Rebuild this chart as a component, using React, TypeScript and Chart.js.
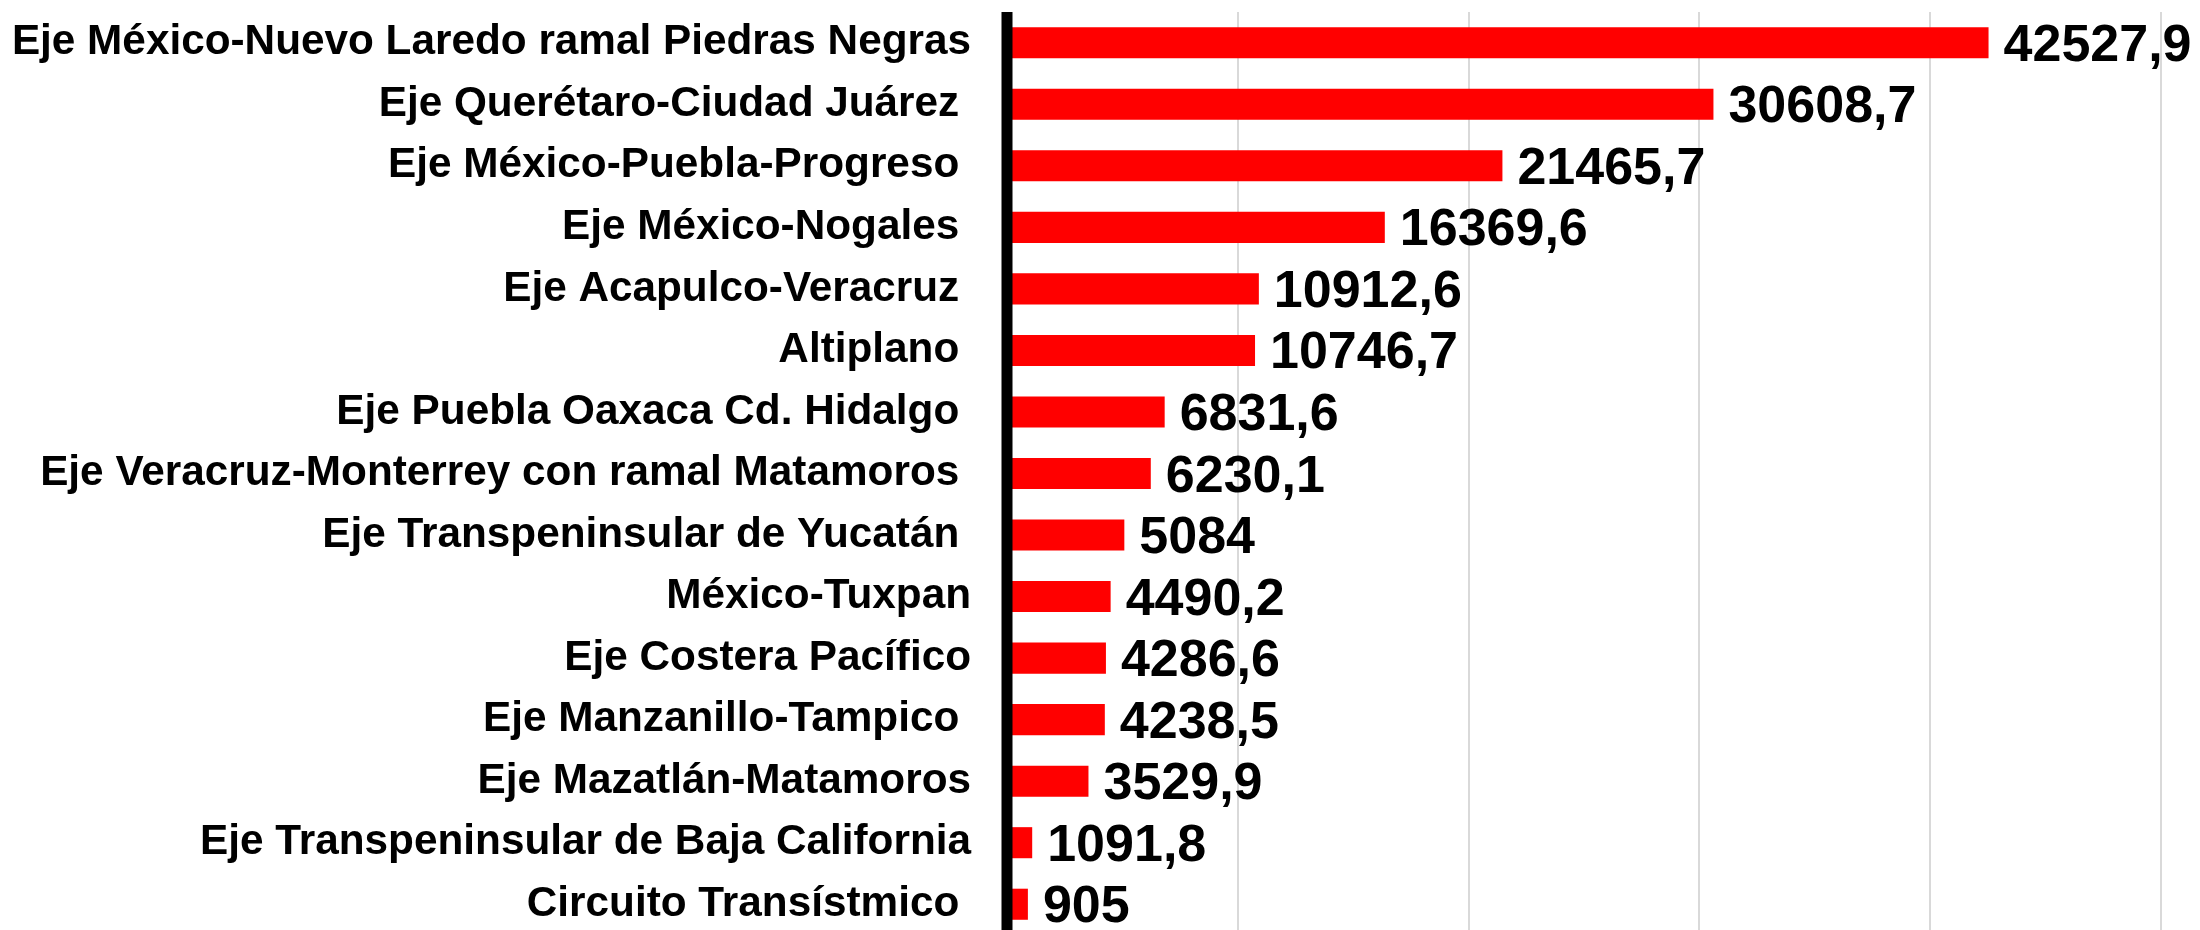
import React, { useEffect, useRef } from "react";
import { Chart, registerables } from "chart.js";

Chart.register(...registerables);

const categories: string[] = [
  "Eje México-Nuevo Laredo ramal Piedras Negras",
  "Eje Querétaro-Ciudad Juárez ",
  "Eje México-Puebla-Progreso ",
  "Eje México-Nogales ",
  "Eje Acapulco-Veracruz ",
  "Altiplano ",
  "Eje Puebla Oaxaca Cd. Hidalgo ",
  "Eje Veracruz-Monterrey con ramal Matamoros ",
  "Eje Transpeninsular de Yucatán ",
  "México-Tuxpan",
  "Eje Costera Pacífico",
  "Eje Manzanillo-Tampico ",
  "Eje Mazatlán-Matamoros",
  "Eje Transpeninsular de Baja California",
  "Circuito Transístmico ",
];

const values: number[] = [
  42527.9, 30608.7, 21465.7, 16369.6, 10912.6, 10746.7, 6831.6, 6230.1, 5084,
  4490.2, 4286.6, 4238.5, 3529.9, 1091.8, 905,
];

const xMin = 0;
const xMax = 50000;
const xStep = 10000;

const FONT = "'Liberation Sans', Arial, sans-serif";

const overlayPlugin = {
  id: "overlay",
  afterDatasetsDraw(chart: any) {
    const ctx = chart.ctx;
    const area = chart.chartArea;
    const x0 = chart.scales.x.getPixelForValue(0);
    ctx.save();
    // axis line on top of bars
    ctx.strokeStyle = "#000000";
    ctx.lineWidth = 11;
    ctx.beginPath();
    ctx.moveTo(x0, area.top);
    ctx.lineTo(x0, area.bottom);
    ctx.stroke();
    // value labels
    const meta = chart.getDatasetMeta(0);
    ctx.font = `bold 52px ${FONT}`;
    ctx.fillStyle = "#000000";
    ctx.textAlign = "left";
    ctx.textBaseline = "alphabetic";
    meta.data.forEach((bar: any, i: number) => {
      const txt = String(values[i]).replace(".", ",");
      ctx.fillText(txt, bar.x + 15, bar.y + 18);
    });
    ctx.restore();
  },
};

export default function App() {
  const ref = useRef<HTMLCanvasElement | null>(null);

  useEffect(() => {
    if (!ref.current) return;
    const chart = new Chart(ref.current, {
      type: "bar",
      data: {
        labels: categories,
        datasets: [
          {
            data: values,
            backgroundColor: "#FF0000",
            borderWidth: 0,
            categoryPercentage: 1,
            barPercentage: 0.505,
          },
        ],
      },
      options: {
        indexAxis: "y",
        responsive: false,
        animation: false,
        layout: { padding: { top: 12, right: 39, bottom: 10, left: 0 } },
        plugins: {
          legend: { display: false },
          tooltip: { enabled: false },
        },
        scales: {
          x: {
            min: xMin,
            max: xMax,
            ticks: { display: false, stepSize: xStep },
            grid: {
              display: true,
              drawTicks: false,
              tickLength: 0,
              lineWidth: 2,
              color: (c: any) =>
                c.tick && c.tick.value === 0 ? "rgba(0,0,0,0)" : "#d9d9d9",
            },
            border: { display: false },
            afterFit: (scale: any) => {
              scale.height = 0;
              scale.paddingLeft = 0;
              scale.paddingRight = 0;
            },
          },
          y: {
            ticks: {
              autoSkip: false,
              padding: 36,
              color: "#000000",
              font: { family: FONT, size: 42.3, weight: "bold" },
            },
            grid: { display: false, drawTicks: false, tickLength: 0 },
            border: { display: false },
            afterFit: (scale: any) => {
              scale.width = 1007;
              scale.paddingTop = 0;
              scale.paddingBottom = 0;
            },
          },
        },
      },
      plugins: [overlayPlugin],
    });
    return () => chart.destroy();
  }, []);

  return (
    <div
      style={{
        position: "fixed",
        left: 0,
        top: 0,
        width: 2200,
        height: 930,
        overflow: "hidden",
        background: "#ffffff",
      }}
    >
      <canvas
        ref={ref}
        width={2200}
        height={945}
        style={{ width: "2200px", height: "945px", display: "block" }}
      />
    </div>
  );
}
